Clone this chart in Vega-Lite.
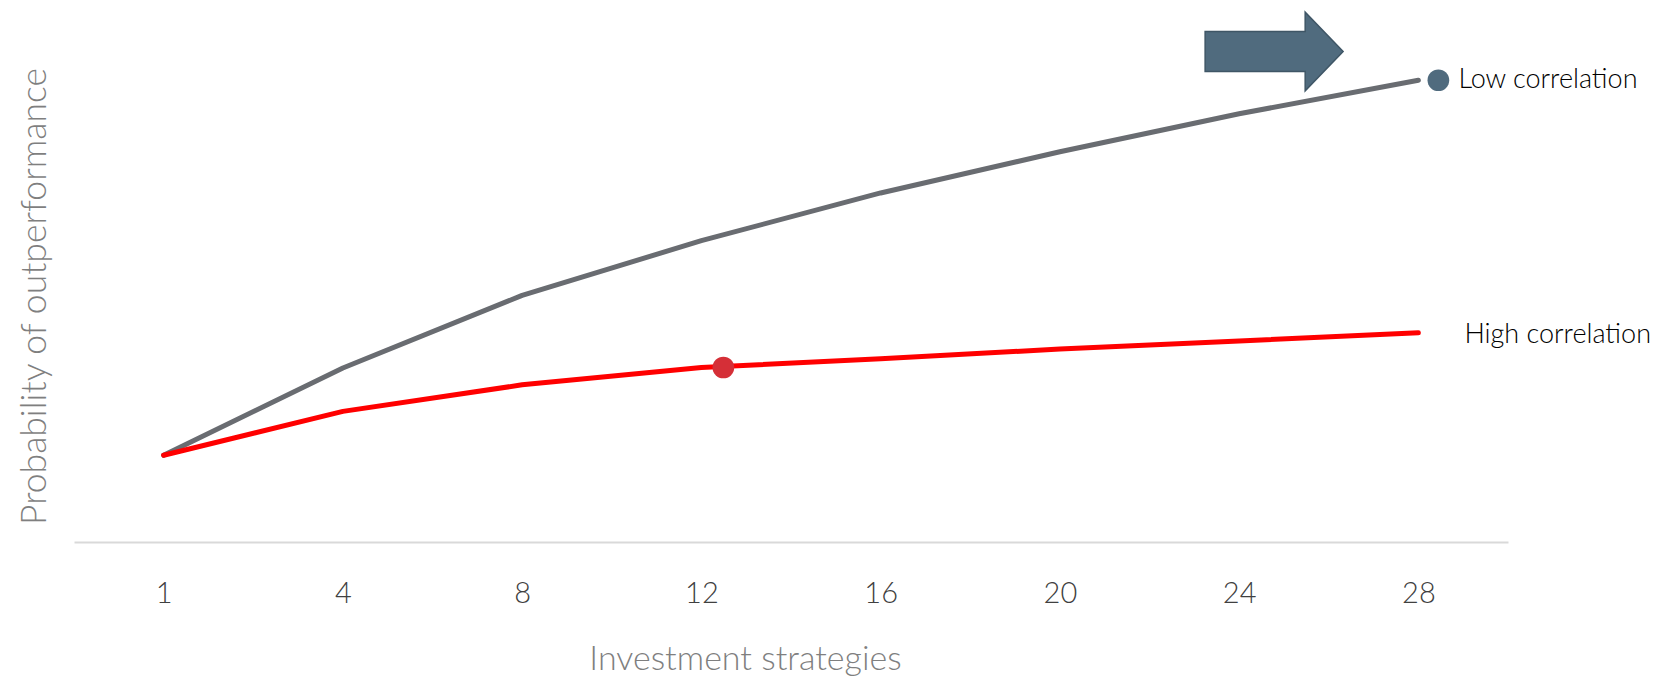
{
  "$schema": "https://vega.github.io/schema/vega-lite/v6.json",
  "width": 1434,
  "height": 542,
  "autosize": {"type": "none"},
  "padding": {"left": 74, "top": 0, "right": 146, "bottom": 135},
  "background": "white",
  "config": {"view": {"stroke": null}, "font": "Lato"},
  "datasets": {
    "lines": [
      {"series": "Low correlation", "strategies": 1, "value": 16.0},
      {"series": "Low correlation", "strategies": 4, "value": 32.1},
      {"series": "Low correlation", "strategies": 8, "value": 45.5},
      {"series": "Low correlation", "strategies": 12, "value": 55.6},
      {"series": "Low correlation", "strategies": 16, "value": 64.4},
      {"series": "Low correlation", "strategies": 20, "value": 72.0},
      {"series": "Low correlation", "strategies": 24, "value": 79.0},
      {"series": "Low correlation", "strategies": 28, "value": 85.2},
      {"series": "High correlation", "strategies": 1, "value": 16.0},
      {"series": "High correlation", "strategies": 4, "value": 24.1},
      {"series": "High correlation", "strategies": 8, "value": 29.0},
      {"series": "High correlation", "strategies": 12, "value": 32.2},
      {"series": "High correlation", "strategies": 16, "value": 33.8},
      {"series": "High correlation", "strategies": 20, "value": 35.6},
      {"series": "High correlation", "strategies": 24, "value": 37.1},
      {"series": "High correlation", "strategies": 28, "value": 38.6}
    ],
    "arrow": [{"strategies": 24, "value": 90.5}]
  },
  "encoding": {
    "x": {
      "field": "strategies",
      "type": "ordinal",
      "scale": {"type": "point", "padding": 0.5},
      "axis": {
        "title": "Investment strategies",
        "labelAngle": 0,
        "domainColor": "#d9d9d9",
        "domainWidth": 2,
        "ticks": false,
        "grid": false,
        "labelFont": "Lato",
        "labelFontSize": 29,
        "labelFontWeight": 300,
        "labelColor": "#404040",
        "labelBaseline": "middle",
        "labelPadding": 51,
        "titleFont": "Lato",
        "titleFontSize": 34,
        "titleFontWeight": 300,
        "titleColor": "#7f7f7f",
        "titleX": 671,
        "titleY": 117,
        "titleAlign": "center",
        "titleBaseline": "middle"
      }
    },
    "y": {
      "field": "value",
      "type": "quantitative",
      "scale": {"domain": [0, 100], "nice": false},
      "axis": {
        "title": "Probability of outperformance",
        "domain": false,
        "ticks": false,
        "labels": false,
        "grid": false,
        "titleFont": "Lato",
        "titleFontSize": 35.5,
        "titleFontWeight": 300,
        "titleColor": "#7f7f7f",
        "titleAngle": -90,
        "titleX": -40,
        "titleY": 296,
        "titleAlign": "center",
        "titleBaseline": "middle"
      }
    }
  },
  "layer": [
    {
      "data": {"name": "lines"},
      "mark": {"type": "line", "strokeWidth": 5, "strokeCap": "round", "strokeJoin": "round"},
      "encoding": {
        "color": {
          "field": "series",
          "type": "nominal",
          "scale": {"domain": ["Low correlation", "High correlation"], "range": ["#696c71", "#ff0000"]},
          "legend": null
        }
      }
    },
    {
      "data": {"name": "lines"},
      "transform": [{"filter": "datum.series === 'High correlation' && datum.strategies === 12"}],
      "mark": {"type": "point", "filled": true, "opacity": 1, "size": 470, "color": "#d52f37", "xOffset": 22}
    },
    {
      "data": {"name": "lines"},
      "transform": [{"filter": "datum.series === 'Low correlation' && datum.strategies === 28"}],
      "mark": {"type": "point", "filled": true, "opacity": 1, "size": 470, "color": "#506b7e", "xOffset": 20}
    },
    {
      "data": {"name": "lines"},
      "transform": [{"filter": "datum.series === 'Low correlation' && datum.strategies === 28"}],
      "mark": {"type": "text", "align": "left", "baseline": "middle", "dx": 40, "fontSize": 27, "fontWeight": 300, "font": "Lato", "color": "#000000"},
      "encoding": {"text": {"field": "series"}}
    },
    {
      "data": {"name": "lines"},
      "transform": [{"filter": "datum.series === 'High correlation' && datum.strategies === 28"}],
      "mark": {"type": "text", "align": "left", "baseline": "middle", "dx": 46, "dy": 2, "fontSize": 27, "fontWeight": 300, "font": "Lato", "color": "#000000"},
      "encoding": {"text": {"field": "series"}}
    },
    {
      "data": {"name": "arrow"},
      "mark": {
        "type": "point",
        "shape": "M -1 -0.29 L 0.45 -0.29 L 0.45 -0.57 L 1 0 L 0.45 0.57 L 0.45 0.29 L -1 0.29 Z",
        "filled": true,
        "opacity": 1,
        "size": 19044,
        "color": "#506b7e",
        "stroke": "#3f5666",
        "strokeWidth": 1.5,
        "xOffset": 35
      }
    }
  ]
}
